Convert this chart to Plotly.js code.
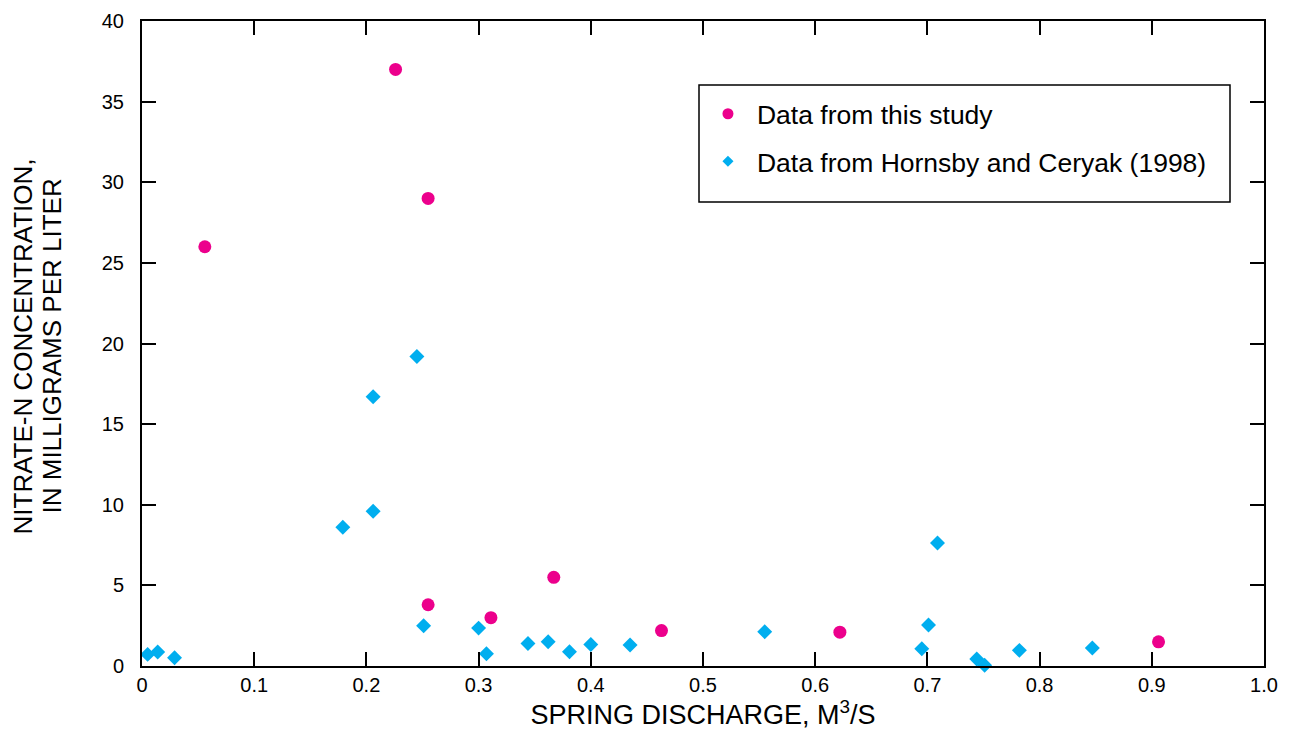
<!DOCTYPE html>
<html><head><meta charset="utf-8">
<script src="https://cdn.plot.ly/plotly-3.0.1.min.js"></script>
<style>html,body{margin:0;padding:0;background:#fff}#chart{width:1292px;height:736px}</style>
</head><body><div id="chart"></div>
<script>
// Data from this study
const studyX = [0.056, 0.226, 0.255, 0.255, 0.311, 0.367, 0.463, 0.622, 0.906];
const studyY = [26.0, 37.0, 29.0, 3.8, 3.0, 5.5, 2.2, 2.1, 1.5];
// Data from Hornsby and Ceryak (1998)
const hcX = [0.005, 0.014, 0.029, 0.179, 0.206, 0.206, 0.245, 0.251, 0.300, 0.307, 0.344, 0.362, 0.381, 0.400, 0.435, 0.555, 0.695, 0.701, 0.709, 0.744, 0.751, 0.782, 0.847];
const hcY = [0.72, 0.87, 0.51, 8.6, 9.6, 16.7, 19.2, 2.5, 2.35, 0.76, 1.4, 1.5, 0.88, 1.33, 1.3, 2.12, 1.07, 2.54, 7.63, 0.43, 0.05, 0.97, 1.12];
const xTicks = [0, 0.1, 0.2, 0.3, 0.4, 0.5, 0.6, 0.7, 0.8, 0.9, 1.0];
const xTickText = ["0", "0.1", "0.2", "0.3", "0.4", "0.5", "0.6", "0.7", "0.8", "0.9", "1.0"];
const yTicks = [0, 5, 10, 15, 20, 25, 30, 35, 40];
const seriesNames = ['Data from this study', 'Data from Hornsby and Ceryak (1998)'];
const xTitle = 'SPRING DISCHARGE, M<sup>3</sup>/S';
const yTitleLines = ['NITRATE-N CONCENTRATION,', 'IN MILLIGRAMS PER LITER'];

const font = "Liberation Sans, Arial, Helvetica, sans-serif";
const pink = '#EC008C', blue = '#00AEEF';
const traces = [
  {x: studyX, y: studyY, type: 'scatter', mode: 'markers', name: seriesNames[0], showlegend: false,
   marker: {symbol: 'circle', size: 13, color: pink}, cliponaxis: false},
  {x: hcX, y: hcY, type: 'scatter', mode: 'markers', name: seriesNames[1], showlegend: false,
   marker: {symbol: 'diamond', size: 11.5, color: blue}, cliponaxis: false},
  // legend entries (smaller legend symbols as in the reference)
  {x: [null], y: [null], type: 'scatter', mode: 'markers', name: seriesNames[0], legendgroup: 'a',
   marker: {symbol: 'circle', size: 11, color: pink}},
  {x: [null], y: [null], type: 'scatter', mode: 'markers', name: seriesNames[1], legendgroup: 'b',
   marker: {symbol: 'diamond', size: 8.5, color: blue}}
];
const axisCommon = {
  showline: true, linecolor: '#000', linewidth: 2, mirror: 'ticks',
  ticks: 'inside', ticklen: 14, tickwidth: 2, tickcolor: '#000',
  showgrid: false, zeroline: false,
  tickfont: {family: font, size: 20, color: '#000'}
};
const layout = {
  width: 1292, height: 736,
  margin: {l: 142, r: 28, t: 21, b: 70},
  paper_bgcolor: '#fff', plot_bgcolor: '#fff',
  font: {family: font, color: '#000'},
  showlegend: true,
  xaxis: Object.assign({}, axisCommon, {
    range: [0, 1.0], tickvals: xTicks, ticktext: xTickText, ticklabelstandoff: 0,
    title: {text: xTitle, font: {family: font, size: 27, color: '#000'}, standoff: 5}
  }),
  yaxis: Object.assign({}, axisCommon, {
    range: [0, 40], tickvals: yTicks, ticklabelstandoff: 12
  }),
  annotations: [
    {text: yTitleLines[0], xref: 'paper', yref: 'paper', x: 0, y: 0.5, xanchor: 'center', yanchor: 'middle',
     xshift: -120, yshift: -3, textangle: -90, showarrow: false, font: {family: font, size: 26, color: '#000'}},
    {text: yTitleLines[1], xref: 'paper', yref: 'paper', x: 0, y: 0.5, xanchor: 'center', yanchor: 'middle',
     xshift: -91, yshift: -3, textangle: -90, showarrow: false, font: {family: font, size: 26, color: '#000'}}
  ],
  shapes: [
    {type: 'rect', xref: 'paper', yref: 'paper',
     x0: (699 - 142) / 1122, x1: (1230 - 142) / 1122, y0: (666 - 202) / 645, y1: (666 - 85) / 645,
     line: {color: '#000', width: 1.5}, fillcolor: 'rgba(0,0,0,0)', layer: 'above'}
  ],
  legend: {
    x: 0.4964, y: 0.893, xanchor: 'left', yanchor: 'top',
    borderwidth: 0, bgcolor: 'rgba(0,0,0,0)',
    font: {family: font, size: 26.5, color: '#000'},
    tracegroupgap: 10, itemwidth: 48
  }
};
Plotly.newPlot('chart', traces, layout, {displayModeBar: false, staticPlot: true});
</script></body></html>
